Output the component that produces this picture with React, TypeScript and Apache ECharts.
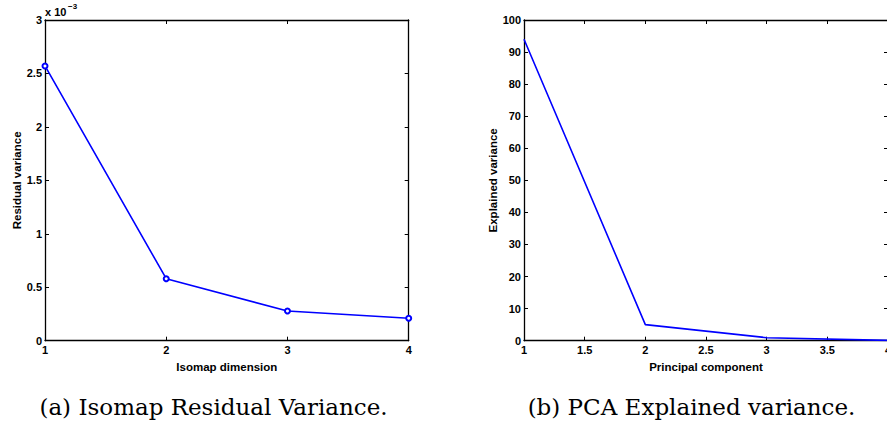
import React, { useEffect, useRef } from "react";
import * as echarts from "echarts";

// Isomap residual variance (values in units of 1e-3)
const isomapDims = [1, 2, 3, 4];
const residualVarianceE3 = [2.57, 0.58, 0.278, 0.21];

// PCA explained variance (%)
const pcaComponents = [1, 2, 3, 4];
const explainedVariance = [94.0, 5.0, 0.94, 0.1];

const leftYTicks = ["0", "0.5", "1", "1.5", "2", "2.5", "3"];
const captionA = "(a) Isomap Residual Variance.";
const captionB = "(b) PCA Explained variance.";

const BLUE = "#0000ff";
const SANS = "'Liberation Sans', Arial, Helvetica, sans-serif";
const SERIF = "'DejaVu Serif', 'Liberation Serif', serif";

export default function App() {
  const ref = useRef<HTMLDivElement>(null);

  useEffect(() => {
    if (!ref.current) return;
    const chart = echarts.init(ref.current, undefined, { renderer: "svg" });

    const lab = { color: "#000", fontFamily: SANS, fontWeight: "bold" as const, fontSize: 11 };
    const nameLab = { ...lab, fontSize: 11.5 };
    const line = { show: true, onZero: false, lineStyle: { color: "#000", width: 1.3 } };
    const tick = { show: true, inside: true, length: 4, lineStyle: { color: "#000", width: 1 } };

    const grids = [
      { left: 45, top: 20, width: 363.7, height: 320.7 },
      { left: 524, top: 20, width: 364, height: 320.7 },
    ];

    const xMain = (gi: number, interval: number, name: string) => ({
      type: "value",
      gridIndex: gi,
      min: 1,
      max: 4,
      interval,
      position: "bottom",
      name,
      nameLocation: "middle",
      nameGap: 17,
      nameTextStyle: { ...nameLab },
      axisLine: line,
      axisTick: tick,
      splitLine: { show: false },
      axisLabel: { ...lab, margin: 4 },
    });
    const xTop = (gi: number, interval: number) => ({
      type: "value",
      gridIndex: gi,
      min: 1,
      max: 4,
      interval,
      position: "top",
      axisLine: line,
      axisTick: tick,
      splitLine: { show: false },
      axisLabel: { show: false },
    });
    const yRight = (gi: number, max: number, interval: number) => ({
      type: "value",
      gridIndex: gi,
      min: 0,
      max,
      interval,
      position: "right",
      axisLine: line,
      axisTick: tick,
      splitLine: { show: false },
      axisLabel: { show: false },
    });

    chart.setOption({
      animation: false,
      backgroundColor: "#fff",
      grid: grids,
      xAxis: [
        xMain(0, 1, "Isomap dimension"),
        xTop(0, 1),
        xMain(1, 0.5, "Principal component"),
        xTop(1, 0.5),
      ],
      yAxis: [
        {
          type: "value",
          gridIndex: 0,
          min: 0,
          max: 3,
          interval: 0.5,
          position: "left",
          name: "Residual variance",
          nameLocation: "middle",
          nameGap: 22,
          nameTextStyle: { ...nameLab },
          axisLine: line,
          axisTick: tick,
          splitLine: { show: false },
          axisLabel: {
            ...lab,
            margin: 3,
            formatter: (v: number) => leftYTicks[Math.round(v * 2)] ?? String(v),
          },
        },
        yRight(0, 3, 0.5),
        {
          type: "value",
          gridIndex: 1,
          min: 0,
          max: 100,
          interval: 10,
          position: "left",
          name: "Explained variance",
          nameLocation: "middle",
          nameGap: 25,
          nameTextStyle: { ...nameLab },
          axisLine: line,
          axisTick: tick,
          splitLine: { show: false },
          axisLabel: { ...lab, margin: 3 },
        },
        yRight(1, 100, 10),
      ],
      series: [
        {
          type: "line",
          xAxisIndex: 0,
          yAxisIndex: 0,
          data: isomapDims.map((d, i) => [d, residualVarianceE3[i]]),
          symbol: "emptyCircle",
          symbolSize: 5,
          lineStyle: { color: BLUE, width: 1.6 },
          itemStyle: { color: BLUE, borderWidth: 1 },
        },
        {
          type: "line",
          xAxisIndex: 2,
          yAxisIndex: 2,
          data: pcaComponents.map((d, i) => [d, explainedVariance[i]]),
          symbol: "none",
          lineStyle: { color: BLUE, width: 1.6 },
        },
      ],
      graphic: [
        {
          type: "text",
          left: 45,
          top: 6,
          style: { text: "x 10", font: `bold 11px ${SANS}`, fill: "#000" },
        },
        {
          type: "text",
          left: 68,
          top: 2,
          style: { text: "\u22123", font: `bold 8px ${SANS}`, fill: "#000" },
        },
        {
          type: "text",
          x: 213.5,
          y: 407,
          style: {
            text: captionA,
            font: `23px ${SERIF}`,
            fill: "#000",
            align: "center",
            verticalAlign: "middle",
          },
        },
        {
          type: "text",
          x: 691.5,
          y: 407,
          style: {
            text: captionB,
            font: `23px ${SERIF}`,
            fill: "#000",
            align: "center",
            verticalAlign: "middle",
          },
        },
      ],
    });

    return () => chart.dispose();
  }, []);

  return (
    <div
      ref={ref}
      style={{ position: "fixed", left: 0, top: 0, width: 900, height: 428 }}
    />
  );
}
